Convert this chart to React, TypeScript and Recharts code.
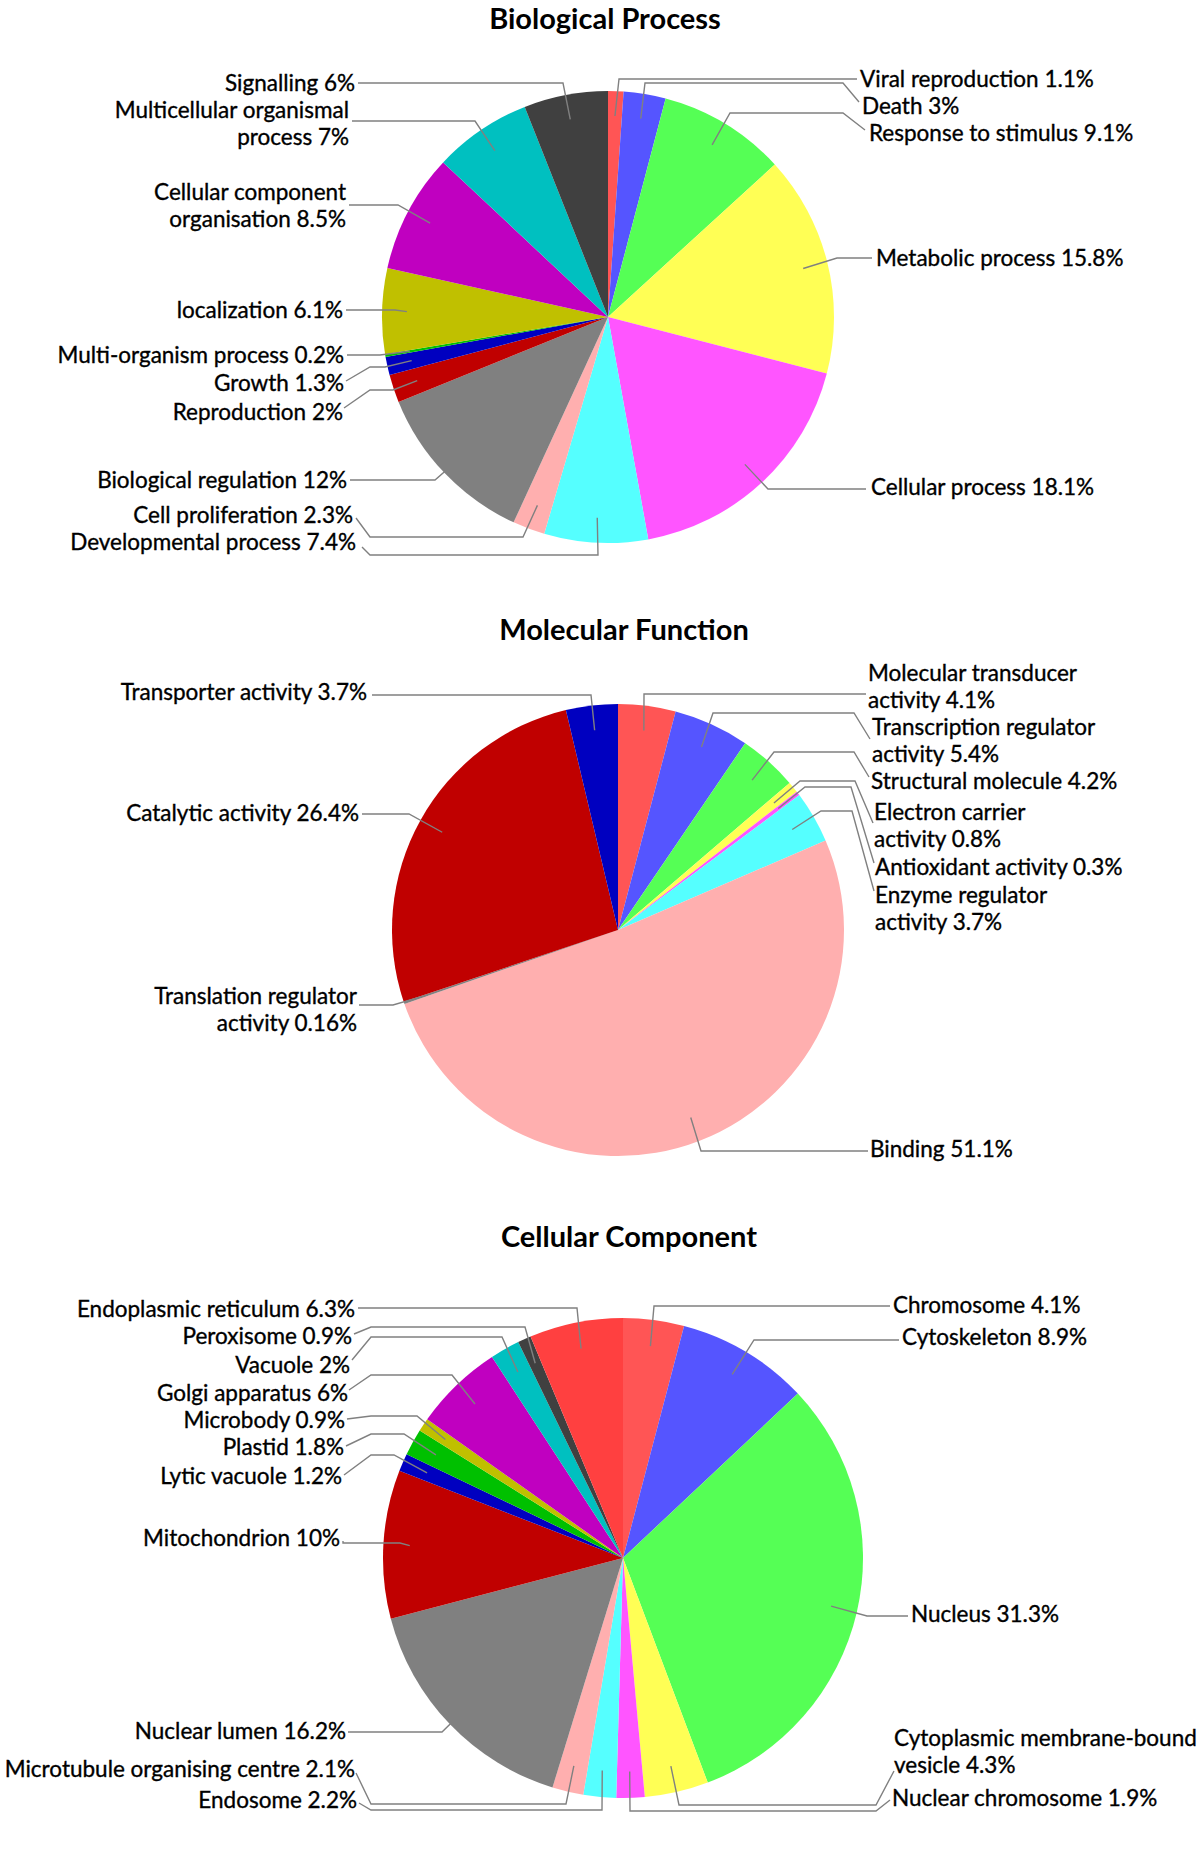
import React from 'react';
import { PieChart, Pie, Cell } from 'recharts';

// Biological Process
const bpNames = [
  'Viral reproduction', 'Death', 'Response to stimulus', 'Metabolic process', 'Cellular process',
  'Developmental process', 'Cell proliferation', 'Biological regulation', 'Reproduction', 'Growth',
  'Multi-organism process', 'localization', 'Cellular component\norganisation',
  'Multicellular organismal\nprocess', 'Signalling',
];
const bpValues = [1.1, 3, 9.1, 15.8, 18.1, 7.4, 2.3, 12, 2, 1.3, 0.2, 6.1, 8.5, 7, 6];

// Molecular Function
const mfNames = [
  'Molecular transducer\nactivity', 'Transcription regulator\nactivity', 'Structural molecule',
  'Electron carrier\nactivity', 'Antioxidant activity', 'Enzyme regulator\nactivity', 'Binding',
  'Translation regulator\nactivity', 'Catalytic activity', 'Transporter activity',
];
const mfValues = [4.1, 5.4, 4.2, 0.8, 0.3, 3.7, 51.1, 0.16, 26.4, 3.7];

// Cellular Component
const ccNames = [
  'Chromosome', 'Cytoskeleton', 'Nucleus', 'Cytoplasmic membrane-bound\nvesicle', 'Nuclear chromosome',
  'Endosome', 'Microtubule organising centre', 'Nuclear lumen', 'Mitochondrion', 'Lytic vacuole',
  'Plastid', 'Microbody', 'Golgi apparatus', 'Vacuole', 'Peroxisome', 'Endoplasmic reticulum',
];
const ccValues = [4.1, 8.9, 31.3, 4.3, 1.9, 2.2, 2.1, 16.2, 10, 1.2, 1.8, 0.9, 6, 2, 0.9, 6.3];

// default java chart palette, in slice order
const palette = [
  '#FF5555', '#5555FF', '#55FF55', '#FFFF55', '#FF55FF', '#55FFFF', '#FFAFAF', '#808080',
  '#C00000', '#0000C0', '#00C000', '#C0C000', '#C000C0', '#00C0C0', '#404040', '#FF4040',
];

// label layout: [textX, textY, lineEndX, lineEndY, kneeX, elbowX, elbowY]
type Spot = number[];
const bpSpots: Spot[] = [
  [860, 79, 857, 79, 857, 619, 79],
  [862, 106, 859, 102, 843, 645, 83],
  [869, 133, 865, 130, 843, 730, 113],
  [876, 258, 872, 258, 872, 837, 258],
  [871, 487, 866, 489, 866, 768, 489],
  [356, 542, 362, 547, 370, 598, 555],
  [353, 515, 356, 518, 370, 523, 537],
  [347, 480, 350, 480, 350, 435, 480],
  [343, 412, 344, 408, 370, 393, 390],
  [344, 383, 346, 381, 370, 385, 367],
  [344, 355, 347, 355, 347, 380, 355],
  [343, 310, 346, 310, 346, 395, 310],
  [346, 192, 349, 205, 349, 398, 205],
  [349, 110, 352, 121, 352, 475, 121],
  [355, 83, 358, 83, 358, 563, 83],
];
const mfSpots: Spot[] = [
  [868, 673, 866, 694, 866, 644, 694],
  [872, 727, 870, 739, 854, 713, 713],
  [871, 781, 869, 777, 854, 774, 752],
  [874, 812, 873, 823, 855, 800, 781],
  [875, 867, 874, 863, 851, 805, 787],
  [875, 895, 874, 891, 852, 821, 811],
  [870, 1149, 868, 1151, 868, 701, 1151],
  [357, 996, 359, 1005, 359, 393, 1005],
  [359, 813, 362, 814, 362, 409, 814],
  [367, 692, 372, 695, 372, 591, 695],
];
const ccSpots: Spot[] = [
  [893, 1305, 890, 1306, 890, 654, 1306],
  [902, 1337, 899, 1340, 899, 754, 1340],
  [911, 1614, 908, 1616, 908, 867, 1616],
  [894, 1738, 894, 1771, 876, 679, 1805],
  [892, 1798, 890, 1800, 876, 630, 1811],
  [357, 1800, 359, 1803, 371, 602, 1810],
  [355, 1769, 356, 1773, 371, 566, 1804],
  [346, 1731, 348, 1732, 348, 442, 1732],
  [340, 1538, 343, 1541, 343, 400, 1543],
  [342, 1476, 344, 1475, 371, 394, 1455],
  [344, 1447, 346, 1446, 371, 404, 1434],
  [345, 1420, 347, 1419, 371, 417, 1416],
  [348, 1393, 349, 1390, 371, 452, 1375],
  [350, 1365, 352, 1360, 371, 502, 1337],
  [352, 1336, 354, 1334, 371, 525, 1327],
  [355, 1309, 358, 1308, 358, 577, 1308],
];

const FONT = 'Lato, "Open Sans", sans-serif';
const FONT_SIZE = 22.5;
const LINE_GAP = 27;
const RAD = Math.PI / 180;

const toRows = (names: string[], values: number[]) =>
  names.map((name, i) => ({ name, value: values[i] }));

// leader line from inside the slice, bent out to the text
const makeLabel = (spots: Spot[]) => (props: any) => {
  const { cx, cy, midAngle, outerRadius, index, payload } = props;
  const s = spots[index];
  if (!s) return null;
  const [tx, ty, ax, ay, kx, ex, ey] = s;
  const r = outerRadius * 0.89;
  const sx = cx + r * Math.cos(-midAngle * RAD);
  const sy = cy + r * Math.sin(-midAngle * RAD);
  const lines = String(payload.name).split('\n');
  lines[lines.length - 1] += ` ${payload.value}%`;
  const anchor = tx < cx ? 'end' : 'start';
  const base = FONT_SIZE * 0.35; // centre of the line -> baseline
  return (
    <g key={`lbl-${index}`}>
      <polyline
        points={`${sx},${sy} ${ex},${ey} ${kx},${ey} ${ax},${ay}`}
        fill="none"
        stroke="#808080"
        strokeWidth={1.4}
      />
      <text
        x={tx}
        y={ty + base}
        textAnchor={anchor}
        fontFamily={FONT}
        fontSize={FONT_SIZE}
        fill="#000"
        stroke="#000"
        strokeWidth={0.35}
      >
        {lines.map((t, j) => (
          <tspan key={j} x={tx} y={ty + j * LINE_GAP + base}>
            {t}
          </tspan>
        ))}
      </text>
    </g>
  );
};

const charts = [
  { title: 'Biological Process', titleX: 605, titleY: 18, cx: 608, cy: 317, r: 226, rows: toRows(bpNames, bpValues), spots: bpSpots },
  { title: 'Molecular Function', titleX: 624, titleY: 629, cx: 618, cy: 930, r: 226, rows: toRows(mfNames, mfValues), spots: mfSpots },
  { title: 'Cellular Component', titleX: 629, titleY: 1236, cx: 623, cy: 1558, r: 240, rows: toRows(ccNames, ccValues), spots: ccSpots },
];

const App: React.FC = () => {
  return (
    <div style={{ position: 'absolute', left: 0, top: 0, width: 1200, height: 1869, background: '#fff' }}>
      <PieChart width={1200} height={1869} margin={{ top: 0, right: 0, bottom: 0, left: 0 }}>
        {charts.map(c => (
          <Pie
            key={c.title}
            data={c.rows}
            dataKey="value"
            nameKey="name"
            cx={c.cx}
            cy={c.cy}
            outerRadius={c.r}
            startAngle={90}
            endAngle={-270}
            stroke="none"
            labelLine={false}
            label={makeLabel(c.spots)}
            isAnimationActive={false}
          >
            {c.rows.map((_, i) => (
              <Cell key={`cell-${i}`} fill={palette[i]} />
            ))}
          </Pie>
        ))}
      </PieChart>
      {charts.map(c => (
        <div
          key={c.title}
          style={{
            position: 'absolute',
            left: c.titleX - 300,
            top: c.titleY - 19,
            width: 600,
            lineHeight: '38px',
            textAlign: 'center',
            fontFamily: FONT,
            fontWeight: 700,
            fontSize: 29,
            color: '#000',
          }}
        >
          {c.title}
        </div>
      ))}
    </div>
  );
};

export default App;
